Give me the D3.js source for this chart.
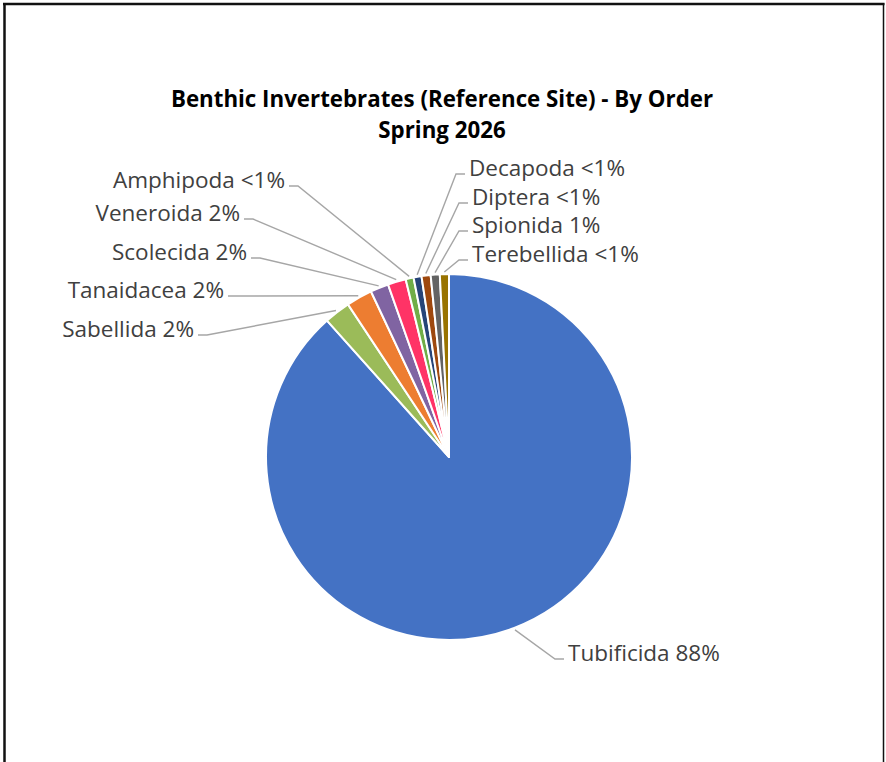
<!DOCTYPE html>
<html>
<head>
<meta charset="utf-8">
<script src="https://cdn.jsdelivr.net/npm/d3@7"></script>
<style>
  body { margin: 0; background: #fff; }
  svg { display: block; }
</style>
</head>
<body>
<div class="pie_container"></div>
<script>
// 資料
const orders = ['Tubificida', 'Sabellida', 'Tanaidacea', 'Scolecida', 'Veneroida',
    'Amphipoda', 'Decapoda', 'Diptera', 'Spionida', 'Terebellida']
const shares = [88.3, 2.3, 2.3, 1.6, 1.6, 0.7, 0.7, 0.8, 0.8, 0.8]
const shareLabels = ['88%', '2%', '2%', '2%', '2%', '<1%', '<1%', '<1%', '1%', '<1%']
const colors = ['#4472C4', '#9BBB59', '#ED7D31', '#8064A2', '#FF3366',
    '#70AD47', '#264478', '#9E480E', '#636363', '#997300']

const titleLines = ['Benthic Invertebrates (Reference Site) - By Order', 'Spring 2026']

// 標籤位置 (手動排版, 類似 Excel 拖曳後的位置) [x, baseline, side]
const labelLayout = {
    Tubificida: [568, 661, 'right'],
    Sabellida: [194, 337, 'left'],
    Tanaidacea: [224, 298, 'left'],
    Scolecida: [247, 260, 'left'],
    Veneroida: [240, 221, 'left'],
    Amphipoda: [285, 188, 'left'],
    Decapoda: [469, 176, 'right'],
    Diptera: [472, 205, 'right'],
    Spionida: [472, 233, 'right'],
    Terebellida: [472, 262, 'right']
}

const data = orders.map((d, i) => ({
    name: d, value: shares[i], label: shareLabels[i], color: colors[i]
}))

const svg_width = 886
const svg_height = 762
const cx = 449
const cy = 457
const radius = 183

const svg = d3.select('.pie_container').append('svg')
    .attr('width', svg_width).attr('height', svg_height)

// 外框
const frame = svg.append('g').attr('class', 'frame').attr('stroke', '#111')
frame.append('line').attr('x1', 4.5).attr('x2', 4.5).attr('y1', 3).attr('y2', svg_height).attr('stroke-width', 2.5)
frame.append('line').attr('x1', 3).attr('x2', 884.5).attr('y1', 4).attr('y2', 4).attr('stroke-width', 2.5)
frame.append('line').attr('x1', 883.5).attr('x2', 883.5).attr('y1', 3).attr('y2', svg_height).attr('stroke-width', 1.5)

// 標題
svg.append('g').attr('class', 'title')
    .selectAll('text').data(titleLines).join('text')
    .attr('x', 442)
    .attr('y', (d, i) => 107 + i * 31)
    .attr('text-anchor', 'middle')
    .style('font-family', '"Open Sans", sans-serif')
    .style('font-weight', 'bold')
    .style('font-size', '22.3px')
    .style('fill', '#000')
    .text(d => d)

// pie
const pie = d3.pie().sort(null).value(d => d.value)
const arcs = pie(data)
const arc = d3.arc().innerRadius(0).outerRadius(radius)

const g = svg.append('g').attr('transform', `translate(${cx},${cy})`)

g.selectAll('.slice').data(arcs).join('path')
    .attr('class', 'slice')
    .attr('d', arc)
    .style('fill', d => d.data.color)
    .style('stroke', '#fff')
    .style('stroke-width', 2)
    .style('stroke-linejoin', 'round')

// 引導線
const edgePoint = d => {
    const a = (d.startAngle + d.endAngle) / 2
    return [Math.sin(a) * (radius + 2), -Math.cos(a) * (radius + 2)]
}

g.selectAll('.leader').data(arcs).join('polyline')
    .attr('class', 'leader')
    .attr('points', d => {
        const [x, y, side] = labelLayout[d.data.name]
        const ly = y - 2
        const dir = side === 'left' ? 1 : -1
        const p0 = edgePoint(d)
        const p1 = [x + dir * 13 - cx, ly - cy]
        const p2 = [x + dir * 4 - cx, ly - cy]
        return [p0, p1, p2].map(p => p.join(',')).join(' ')
    })
    .style('fill', 'none')
    .style('stroke', '#A6A6A6')
    .style('stroke-width', 1.4)

// 標籤
svg.append('g').attr('class', 'labels')
    .selectAll('text').data(data).join('text')
    .attr('x', d => labelLayout[d.name][0])
    .attr('y', d => labelLayout[d.name][1])
    .attr('text-anchor', d => labelLayout[d.name][2] === 'left' ? 'end' : 'start')
    .style('font-family', '"Open Sans", sans-serif')
    .style('font-size', '22.5px')
    .style('fill', '#404040')
    .text(d => `${d.name} ${d.label}`)
</script>
</body>
</html>
